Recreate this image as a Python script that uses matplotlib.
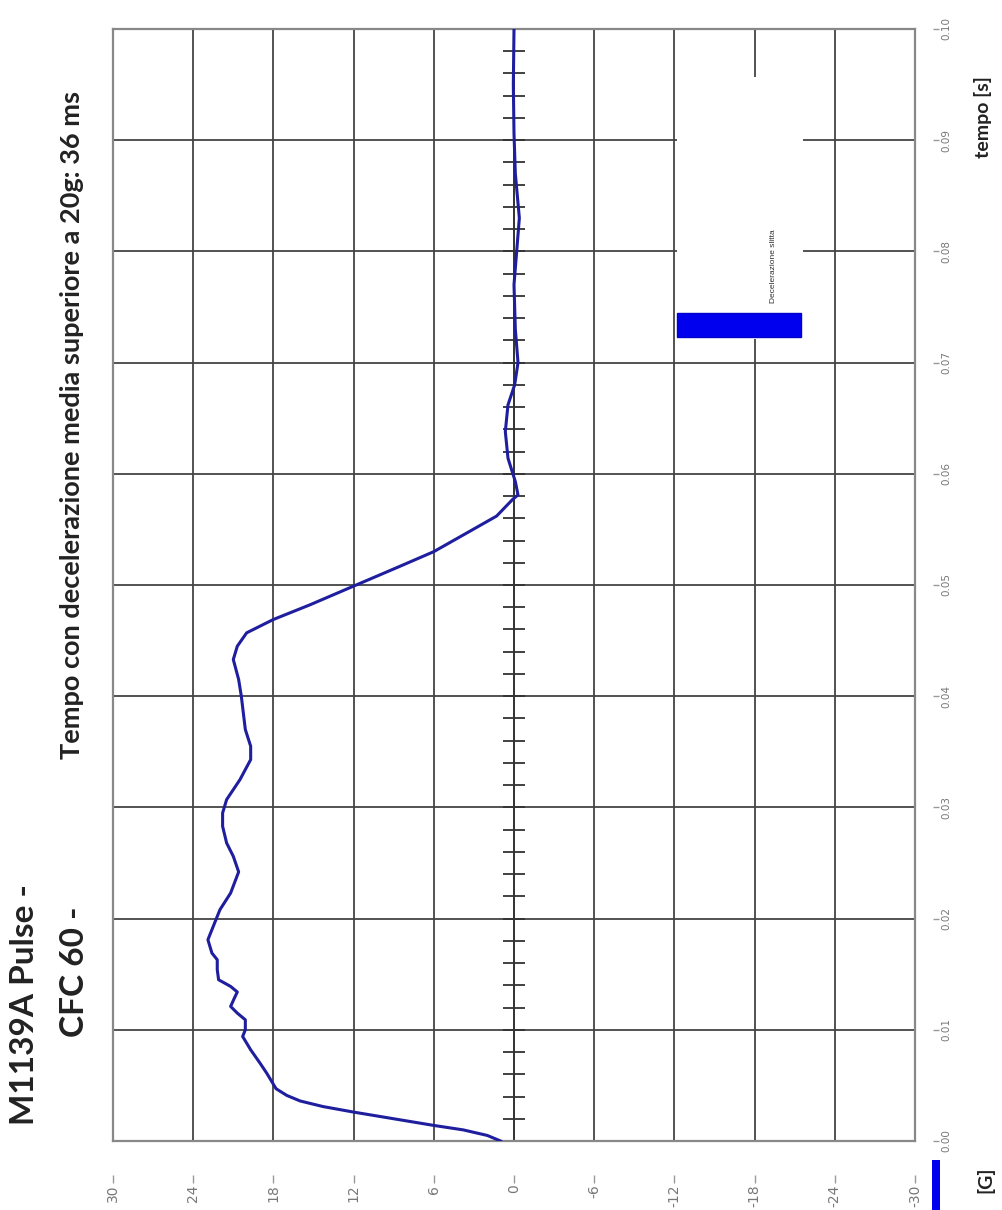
import numpy as np
import matplotlib.pyplot as plt
from matplotlib.patches import Rectangle

# pulse (time in ms, deceleration in G)
time_ms = [0.0, 0.5, 1.0, 1.4, 2.0, 2.6, 3.1, 3.6, 4.1, 4.7, 5.5, 6.1, 7.0, 8.2,
           9.4, 10.0, 10.9, 11.5, 12.1, 12.9, 13.4, 13.9, 14.5, 15.4, 16.3, 16.9,
           18.1, 19.3, 20.8, 22.3, 24.2, 25.6, 26.8, 28.3, 29.5, 30.7, 32.5, 34.3,
           35.5, 37.0, 40.0, 41.5, 43.3, 44.5, 45.7, 46.9, 48.2, 49.9, 51.7, 53.0,
           54.7, 56.2, 57.7, 58.1, 59.3, 61.4, 63.8, 66.2, 68.0, 70.0, 73.0, 77.0,
           80.0, 83.0, 87.0, 90.6, 95.0, 100.0]
accel_g = [1.0, 2.0, 3.8, 6.0, 9.0, 12.0, 14.3, 16.0, 17.0, 17.8, 18.2, 18.5, 19.0, 19.7,
           20.3, 20.1, 20.1, 20.7, 21.2, 20.9, 20.7, 21.2, 22.1, 22.2, 22.2, 22.6,
           22.9, 22.5, 22.0, 21.2, 20.6, 21.0, 21.5, 21.8, 21.8, 21.5, 20.5, 19.7,
           19.7, 20.1, 20.4, 20.6, 21.0, 20.7, 20.0, 18.0, 15.3, 12.0, 8.5, 6.0,
           3.5, 1.3, 0.1, -0.3, -0.1, 0.45, 0.65, 0.45, -0.05, -0.3, -0.1, 0.0,
           -0.2, -0.4, -0.1, 0.0, 0.05, 0.0]

g_ticks = [30, 24, 18, 12, 6, 0, -6, -12, -18, -24, -30]
g_labels = ["30", "24", "18", "12", "6", "0", "-6", "-12", "-18", "-24", "-30"]
t_ticks = [0.00, 0.01, 0.02, 0.03, 0.04, 0.05, 0.06, 0.07, 0.08, 0.09, 0.10]
t_labels = ["0.00", "0.01", "0.02", "0.03", "0.04", "0.05", "0.06", "0.07", "0.08", "0.09", "0.10"]
t_minor = np.arange(0.002, 0.1, 0.002)

W, H = 1003, 1210
fig = plt.figure(figsize=(W / 100, H / 100), dpi=100)
ax = fig.add_axes([113 / W, 69 / H, 802 / W, 1112 / H])

t = np.array(time_ms) / 1000.0
g = np.array(accel_g)

ax.set_xlim(30, -30)
ax.set_ylim(0, 0.1)
ax.set_xticks(g_ticks)
ax.set_yticks(t_ticks)
ax.set_axisbelow(True)
ax.grid(color="#444444", lw=1.3)
ax.tick_params(length=0, labelbottom=False, labelleft=False)
for s in ax.spines.values():
    s.set_color("#888888")
    s.set_linewidth(1.6)

# zero line with small time ticks
ax.axvline(0, color="#333333", lw=1.3, zorder=1.5)
ax.hlines(t_minor, 0.8, -0.8, color="#333333", lw=1.3, zorder=1.5)

# legend (drawn rotated like the rest of the chart)
ax.add_patch(Rectangle((-12.2, 0.0721), -9.4, 0.0236, fc="white", ec="none", zorder=1))
ax.add_patch(Rectangle((-12.2, 0.0723), -9.3, 0.0022, fc="#0000ee", ec="#0000cc", zorder=3))
ax.text(-19.45, 0.0754, "Decelerazione slitta", rotation=90, ha="center", va="bottom",
        fontsize=6, color="#333333", family="Liberation Sans")

ax.plot(g, t, color="#1e1e9e", lw=2.2, zorder=4)

# tick labels sit a little away from the frame
secx = ax.secondary_xaxis(-0.0306)
secx.set_xticks(g_ticks, labels=g_labels)
secx.spines["bottom"].set_visible(False)
secx.tick_params(length=6, width=1, direction="out", color="#999999", labelrotation=90,
                 labelsize=10, labelcolor="#777777", pad=1)

secy = ax.secondary_yaxis(1.0224)
secy.set_yticks(t_ticks, labels=t_labels)
secy.spines["right"].set_visible(False)
secy.tick_params(length=4, width=1, direction="out", color="#999999", labelrotation=90,
                 labelsize=7.5, labelcolor="#777777", pad=2)
for lab in secy.get_yticklabels():
    lab.set_va("center")

bold = dict(family="Lato", weight="bold", color="#222222", rotation=90, ha="center", va="center")
fig.text(72 / W, 1 - 425 / H, "Tempo con decelerazione media superiore a 20g: 36 ms", fontsize=19.5, **bold)
fig.text(25 / W, 1 - 1005 / H, "M1139A Pulse -", fontsize=24, **bold)
fig.text(75 / W, 1 - 972 / H, "CFC 60 -", fontsize=24, **bold)
fig.text(983 / W, 1 - 117 / H, "tempo [s]", fontsize=14, **bold)
fig.text(985 / W, 1 - 1180 / H, "[G]", fontsize=14, **bold)

fig.patches.append(Rectangle((932 / W, 0), 8 / W, 50 / H, transform=fig.transFigure,
                             fc="#0000ee", ec="none"))

fig.savefig("out.png", dpi=100)
